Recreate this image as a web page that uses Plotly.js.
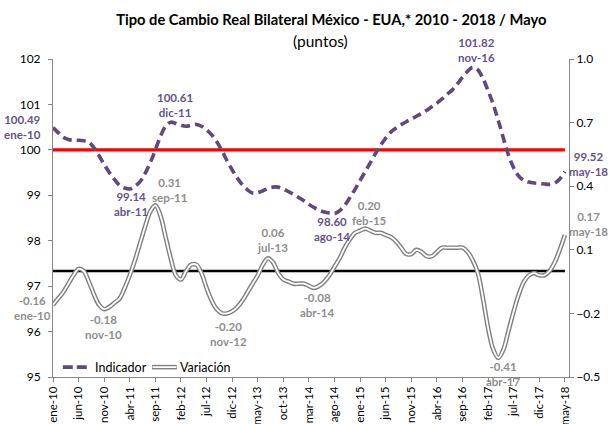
<!DOCTYPE html>
<html><head><meta charset="utf-8">
<script src="https://cdn.plot.ly/plotly-3.0.1.min.js"></script>
<style>html,body{margin:0;padding:0;background:#fff}#chart{width:609px;height:424px}</style>
</head><body><div id="chart"></div>
<script>
// ---- data ----
const monthNames = ['ene','feb','mar','abr','may','jun','jul','ago','sep','oct','nov','dic'];
const years = ['10','11','12','13','14','15','16','17','18'];
const categories = [];
years.forEach(y => monthNames.forEach(m => categories.push(m + '-' + y)));
categories.length = 101; // ene-10 ... may-18

const tickLabels = ['ene-10','jun-10','nov-10','abr-11','sep-11','feb-12','jul-12','dic-12','may-13','oct-13',
  'mar-14','ago-14','ene-15','jun-15','nov-15','abr-16','sep-16','feb-17','jul-17','dic-17','may-18'];

const indicador = [
  100.49,100.38,100.28,100.23,100.21,100.21,100.20,100.17,100.05,99.87,
  99.68,99.50,99.35,99.22,99.16,99.14,99.20,99.30,99.48,99.72,
  100.00,100.30,100.52,100.61,100.58,100.54,100.52,100.54,100.56,100.52,
  100.44,100.33,100.18,99.98,99.76,99.56,99.38,99.23,99.12,99.05,
  99.06,99.10,99.15,99.18,99.18,99.14,99.08,99.02,98.95,98.88,
  98.80,98.73,98.67,98.63,98.61,98.60,98.66,98.78,98.95,99.13,
  99.33,99.52,99.72,99.92,100.10,100.26,100.39,100.48,100.55,100.62,
  100.68,100.74,100.80,100.87,100.95,101.03,101.12,101.22,101.32,101.45,
  101.60,101.73,101.82,101.76,101.57,101.30,101.00,100.64,100.25,99.88,
  99.60,99.42,99.33,99.29,99.27,99.26,99.25,99.24,99.27,99.36,
  99.52];

const variacion = [
  -0.16,-0.13,-0.10,-0.06,-0.02,0.01,0.00,-0.05,-0.11,-0.16,
  -0.18,-0.17,-0.15,-0.13,-0.08,-0.02,0.05,0.13,0.21,0.28,
  0.31,0.26,0.16,0.06,-0.02,-0.04,0.00,0.03,0.03,-0.01,
  -0.08,-0.14,-0.18,-0.20,-0.20,-0.19,-0.17,-0.14,-0.10,-0.06,
  -0.02,0.03,0.06,0.04,-0.01,-0.04,-0.05,-0.06,-0.06,-0.06,
  -0.07,-0.08,-0.07,-0.05,-0.02,0.02,0.06,0.11,0.15,0.18,
  0.19,0.20,0.19,0.18,0.18,0.17,0.16,0.14,0.11,0.08,
  0.08,0.10,0.09,0.07,0.07,0.09,0.11,0.11,0.11,0.11,
  0.11,0.09,0.05,-0.01,-0.13,-0.27,-0.37,-0.41,-0.37,-0.28,
  -0.19,-0.11,-0.05,-0.02,-0.01,-0.02,-0.02,0.00,0.04,0.10,
  0.17];

const refIndicador = 100;
const refVariacion = 0;

const indicadorLabelMonths = ['ene-10','abr-11','dic-11','ago-14','nov-16','may-18'];
const variacionLabelMonths = ['ene-10','nov-10','sep-11','nov-12','jul-13','abr-14','feb-15','abr-17','may-18'];

// ---- styles ----
const FONT = 'Lato, "Open Sans", sans-serif';
const PURPLE = '#604A7B';
const PURPLE_TXT = '#65538A';
const GRAY_TXT = '#8E8E8E';
const AXIS = '#878787';

const indShift = {'ene-10':[-31,1],'abr-11':[1,-15],'dic-11':[4,17],'ago-14':[-3,-16],'nov-16':[4,17],'may-18':[24,8]};
const varShift = {'ene-10':[-21,-3],'nov-10':[-1,-18],'sep-11':[14,15],'nov-12':[1,-21],'jul-13':[4,18],
  'abr-14':[3,-17],'feb-15':[4,16],'abr-17':[5,-16],'may-18':[24,11]};

const traces = [
  {x: categories, y: categories.map(() => refIndicador), type:'scatter', mode:'lines',
   line:{color:'#FF0000', width:3.2}, showlegend:false, hoverinfo:'skip'},
  {x: categories, y: indicador, name:'Indicador', type:'scatter', mode:'lines',
   line:{color:PURPLE, width:3.6, dash:'9px,5px', shape:'spline', smoothing:1}, showlegend:false},
  {x: categories, y: categories.map(() => refVariacion), yaxis:'y2', type:'scatter', mode:'lines',
   line:{color:'#000000', width:2.6}, showlegend:false, hoverinfo:'skip'},
  {x: categories, y: variacion, name:'Variación', yaxis:'y2', type:'scatter', mode:'lines',
   line:{color:'#7F7F7F', width:4.6, shape:'spline', smoothing:1}, showlegend:false},
  {x: categories, y: variacion, yaxis:'y2', type:'scatter', mode:'lines',
   line:{color:'#FFFFFF', width:1.8, shape:'spline', smoothing:1}, showlegend:false, hoverinfo:'skip'}
];

const annotations = [];
indicadorLabelMonths.forEach(m => {
  const v = indicador[categories.indexOf(m)];
  annotations.push({x:m, y:v, xref:'x', yref:'y', text:v.toFixed(2)+'<br>'+m, showarrow:false,
    xanchor:'center', yanchor:'middle', xshift:indShift[m][0], yshift:indShift[m][1],
    font:{family:FONT, size:11.5, color:PURPLE_TXT, weight:'bold'}});
});
variacionLabelMonths.forEach(m => {
  const v = variacion[categories.indexOf(m)];
  annotations.push({x:m, y:v, xref:'x', yref:'y2', text:v.toFixed(2)+'<br>'+m, showarrow:false,
    xanchor:'center', yanchor:'middle', xshift:varShift[m][0], yshift:varShift[m][1],
    font:{family:FONT, size:11.5, color:GRAY_TXT, weight:'bold'}});
});
// subtitle
annotations.push({xref:'paper', yref:'paper', x:0.519, y:1.057, text:'(puntos)', showarrow:false,
  xanchor:'center', yanchor:'middle', font:{family:FONT, size:15.5, color:'#000'}});
// legend texts
annotations.push({xref:'paper', yref:'paper', x:0.077, y:0.031, text:'Indicador', showarrow:false,
  xanchor:'left', yanchor:'middle', font:{family:FONT, size:12.5, color:'#000'}});
annotations.push({xref:'paper', yref:'paper', x:0.242, y:0.031, text:'Variación', showarrow:false,
  xanchor:'left', yanchor:'middle', font:{family:FONT, size:12.5, color:'#000'}});

const shapes = [
  {type:'line', xref:'paper', yref:'paper', x0:0.019, x1:0.068, y0:0.031, y1:0.031,
   line:{color:PURPLE, width:3.6, dash:'10px,4px'}},
  {type:'line', xref:'paper', yref:'paper', x0:0.192, x1:0.240, y0:0.031, y1:0.031,
   line:{color:'#7F7F7F', width:4.6}},
  {type:'line', xref:'paper', yref:'paper', x0:0.193, x1:0.239, y0:0.031, y1:0.031,
   line:{color:'#FFFFFF', width:1.8}}
];

const layout = {
  width:609, height:424,
  margin:{l:53, r:40, t:59, b:47},
  paper_bgcolor:'#fff', plot_bgcolor:'#fff',
  font:{family:FONT, size:11.5, color:'#000'},
  title:{text:'<b>Tipo de Cambio Real Bilateral México - EUA,* 2010 - 2018 / Mayo</b>',
    x:0.544, xref:'container', xanchor:'center', y:1-20/424, yref:'container', yanchor:'middle',
    font:{family:FONT, size:14.7, color:'#000'}},
  xaxis:{type:'category', categoryorder:'array', categoryarray:categories, range:[0,100.8],
    tickmode:'array', tickvals:tickLabels, ticktext:tickLabels, tickangle:-90,
    ticks:'outside', ticklen:4, tickcolor:AXIS, showline:true, linecolor:AXIS, linewidth:1,
    showgrid:false, zeroline:false, tickfont:{family:FONT, size:11.5, color:'#000'}},
  yaxis:{range:[95,102], dtick:1, tick0:95, ticks:'outside', ticklen:4, tickcolor:AXIS,
    showline:true, linecolor:AXIS, showgrid:false, zeroline:false, ticklabelstandoff:5,
    tickfont:{family:FONT, size:12, color:'#000'}},
  yaxis2:{overlaying:'y', side:'right', range:[-0.5,1.0], tickmode:'array',
    tickvals:[-0.5,-0.2,0.1,0.4,0.7,1.0], tickformat:'.1f', ticks:'outside', ticklen:4, tickcolor:AXIS,
    showline:true, linecolor:AXIS, showgrid:false, zeroline:false,
    tickfont:{family:FONT, size:12, color:'#000'}},
  showlegend:false,
  annotations, shapes
};

Plotly.newPlot('chart', traces, layout, {displayModeBar:false, staticPlot:true});
</script></body></html>
